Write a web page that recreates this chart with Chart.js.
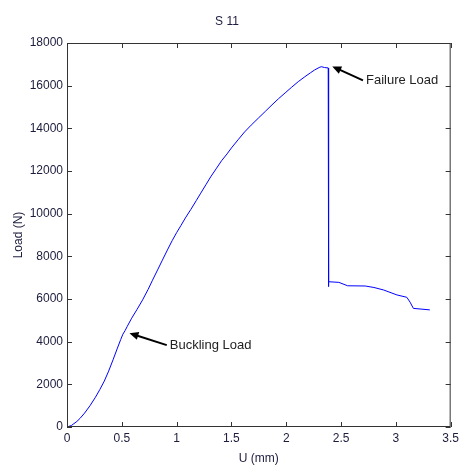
<!DOCTYPE html>
<html>
<head>
<meta charset="utf-8">
<script src="https://cdn.jsdelivr.net/npm/chart.js@4.4.0/dist/chart.umd.min.js"></script>
<style>
  body { margin: 0; background: #fff; }
  canvas { display: block; }
</style>
</head>
<body>
<canvas id="myChart" width="463" height="466"></canvas>
<script>
  // displacement (mm) and load (N)
  const dispU = [0, 0.04, 0.09, 0.12, 0.16, 0.21, 0.26, 0.30, 0.34, 0.38, 0.42, 0.46, 0.49, 0.51, 0.53, 0.55, 0.59,
    0.64, 0.69, 0.74, 0.78, 0.83, 0.87, 0.92, 0.96, 1.00, 1.04, 1.08, 1.13, 1.18, 1.22, 1.27, 1.31, 1.36, 1.41,
    1.46, 1.50, 1.56, 1.62, 1.68, 1.75, 1.81, 1.87, 1.93, 1.99, 2.05, 2.11, 2.17, 2.22, 2.26, 2.30, 2.32, 2.35,
    2.383, 2.383, 2.39, 2.48, 2.56, 2.72, 2.80, 2.89, 3.01, 3.10, 3.13, 3.16, 3.31];
  const loadN = [0, 70, 260, 410, 650, 1000, 1400, 1760, 2150, 2620, 3150, 3700, 4100, 4350, 4520, 4720, 5100,
    5520, 5960, 6450, 6880, 7400, 7820, 8340, 8740, 9110, 9450, 9800, 10200, 10620, 10960, 11380, 11720, 12100, 12480,
    12800, 13080, 13460, 13830, 14150, 14500, 14800, 15100, 15390, 15660, 15930, 16190, 16420, 16600, 16740, 16850, 16890, 16850,
    16830, 6580, 6810, 6780, 6620, 6610, 6540, 6420, 6190, 6080, 5850, 5560, 5490];

  const xTicks = [0, 0.5, 1, 1.5, 2, 2.5, 3, 3.5];
  const yTicks = [0, 2000, 4000, 6000, 8000, 10000, 12000, 14000, 16000, 18000];

  // annotations: [text, arrow head u, head load, tail u, tail load]
  const notes = [
    ['Failure Load', 2.42, 16900, 2.70, 16250],
    ['Buckling Load', 0.57, 4400, 0.91, 3840]
  ];

  const txtColor = '#1c1c3c';
  const family = '"Liberation Sans", Arial, sans-serif';

  const boxPlugin = {
    id: 'box',
    afterDraw(chart) {
      const { ctx, chartArea: a, scales: { x, y } } = chart;
      ctx.save();
      ctx.strokeStyle = '#333';
      ctx.lineWidth = 1;
      ctx.strokeRect(a.left + 0.5, a.top + 0.5, a.right - a.left - 1, a.bottom - a.top - 1);
      ctx.beginPath();
      xTicks.forEach(v => {
        const px = Math.round(x.getPixelForValue(v)) + 0.5;
        ctx.moveTo(px, a.bottom); ctx.lineTo(px, a.bottom - 5);
        ctx.moveTo(px, a.top); ctx.lineTo(px, a.top + 5);
      });
      yTicks.forEach(v => {
        const py = Math.round(y.getPixelForValue(v)) + 0.5;
        ctx.moveTo(a.left, py); ctx.lineTo(a.left + 5, py);
        ctx.moveTo(a.right, py); ctx.lineTo(a.right - 5, py);
      });
      ctx.stroke();

      // arrows and labels
      ctx.strokeStyle = '#000';
      ctx.fillStyle = '#000';
      ctx.lineWidth = 2;
      notes.forEach(n => {
        const hx = x.getPixelForValue(n[1]), hy = y.getPixelForValue(n[2]);
        const tx = x.getPixelForValue(n[3]), ty = y.getPixelForValue(n[4]);
        const ang = Math.atan2(hy - ty, hx - tx);
        ctx.beginPath();
        ctx.moveTo(tx, ty);
        ctx.lineTo(hx - 6 * Math.cos(ang), hy - 6 * Math.sin(ang));
        ctx.stroke();
        ctx.beginPath();
        ctx.moveTo(hx, hy);
        ctx.lineTo(hx - 9 * Math.cos(ang) + 4 * Math.sin(ang), hy - 9 * Math.sin(ang) - 4 * Math.cos(ang));
        ctx.lineTo(hx - 9 * Math.cos(ang) - 4 * Math.sin(ang), hy - 9 * Math.sin(ang) + 4 * Math.cos(ang));
        ctx.closePath();
        ctx.fill();
        ctx.font = '13px ' + family;
        ctx.fillStyle = '#222';
        ctx.textBaseline = 'middle';
        ctx.fillText(n[0], tx + 3, ty);
        ctx.fillStyle = '#000';
      });
      ctx.restore();
    }
  };

  new Chart(document.getElementById('myChart'), {
    type: 'scatter',
    data: {
      datasets: [{
        data: dispU.map((u, i) => ({ x: u, y: loadN[i] })),
        showLine: true,
        borderColor: '#0000ff',
        borderWidth: 1,
        pointRadius: 0,
        tension: 0
      }]
    },
    options: {
      responsive: false,
      animation: false,
      layout: { padding: { left: 0, right: 9, top: 0, bottom: 0 } },
      plugins: {
        legend: { display: false },
        tooltip: { enabled: false },
        title: {
          display: true,
          text: 'S 11',
          color: txtColor,
          font: { family: family, size: 12, weight: 'normal' },
          padding: { top: 14, bottom: 14.6 }
        }
      },
      scales: {
        x: {
          type: 'linear',
          min: 0, max: 3.5,
          afterBuildTicks: s => { s.ticks = xTicks.map(v => ({ value: v })); },
          afterFit: s => { s.height = 39; },
          grid: { display: false, drawTicks: false },
          border: { display: false },
          ticks: {
            color: txtColor, padding: 4, maxRotation: 0,
            font: { family: family, size: 12 },
            callback: v => String(v)
          },
          title: {
            display: true, text: 'U (mm)', color: txtColor, padding: { top: 2, bottom: 0 },
            font: { family: family, size: 12 }
          }
        },
        y: {
          min: 0, max: 18000,
          afterBuildTicks: s => { s.ticks = yTicks.map(v => ({ value: v })); },
          afterFit: s => { s.width = 67; },
          grid: { display: false, drawTicks: false },
          border: { display: false },
          ticks: {
            color: txtColor, padding: 4,
            font: { family: family, size: 12 },
            callback: v => String(v)
          },
          title: {
            display: true, text: 'Load (N)', color: txtColor, padding: { top: 11, bottom: 0 },
            font: { family: family, size: 12 }
          }
        }
      }
    },
    plugins: [boxPlugin]
  });
</script>
</body>
</html>
